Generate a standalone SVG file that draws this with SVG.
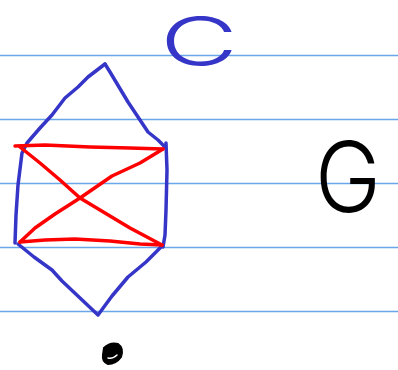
<svg xmlns="http://www.w3.org/2000/svg" width="398" height="370" viewBox="0 0 398 370">
<style>
.rule{stroke:#6aa6ea;stroke-width:1.3}
.blue{fill:none;stroke:#3535c8;stroke-width:3.5;stroke-linecap:round;stroke-linejoin:round}
.red{fill:none;stroke:#ff0000;stroke-width:3.5;stroke-linecap:round;stroke-linejoin:round}
.hand{font-family:Inter,"Noto Sans","DejaVu Sans",sans-serif;font-weight:300}
</style>
<rect width="398" height="370" fill="#ffffff"/>
<g id="paper">
<line class="rule" x1="0" y1="55.5" x2="398" y2="55.5"/>
<line class="rule" x1="0" y1="119.5" x2="398" y2="119.5"/>
<line class="rule" x1="0" y1="183.5" x2="398" y2="183.5"/>
<line class="rule" x1="0" y1="247.5" x2="398" y2="247.5"/>
<line class="rule" x1="0" y1="311.5" x2="398" y2="311.5"/>
</g>
<g id="connectors">
<path class="blue" d="M105,64 L88,77 L78,87 L65,98 L52,115 L40,128 L27,143 L22,153 L18,185 L16,215 L15,243"/>
<path class="blue" d="M105,64 L110,72 L128,102 L140,120 L148,132 L158,140 L165,147"/>
<path class="blue" d="M166,143 L167,170 L166,210 L165,235 L163,247"/>
<path class="blue" d="M18,244 L34,257 L52,270 L62,281 L80,298 L98,315 L112,296 L128,277 L146,262 L162,246"/>
<path class="red" d="M15,146 L45,145 L90,147 L130,148 L163,149"/>
<path class="red" d="M20,147 L40,163 L60,180 L80,198 L105,213 L130,228 L162,245"/>
<path class="red" d="M163,149 L140,163 L112,176 L80,198 L55,214 L35,228 L20,242"/>
<path class="red" d="M20,242 L45,240 L75,239 L110,241 L140,244 L162,245"/>
</g>
<g id="label-c">
<text class="hand" x="160" y="66" font-size="68" fill="#3535c8" textLength="78" lengthAdjust="spacingAndGlyphs">C</text>
</g>
<g id="label-g">
<text class="hand" x="315" y="212" font-size="98" fill="#000000" textLength="66" lengthAdjust="spacingAndGlyphs">G</text>
</g>
<g id="dot">
<path d="M104,348 Q110,342 118,344 Q124,348 121,357 Q116,364 108,364 Q102,362 103,355 Z" fill="#000000" stroke="#000000" stroke-width="2"/>
<path d="M108,358 Q113,359 117,355" fill="none" stroke="#ffffff" stroke-width="1.5" stroke-linecap="round"/>
</g>
</svg>
